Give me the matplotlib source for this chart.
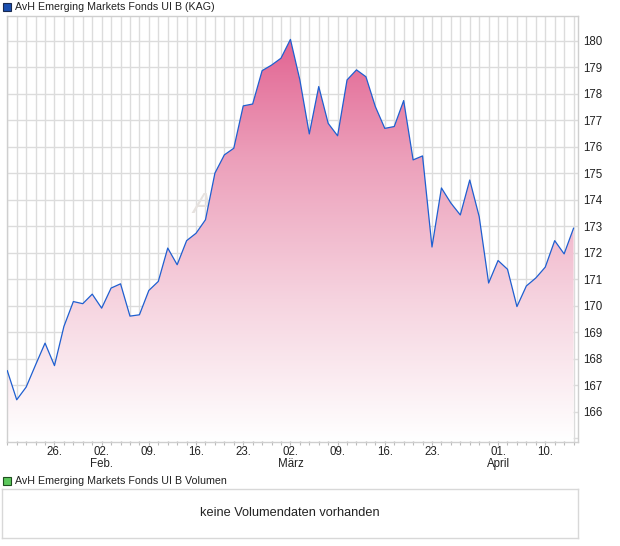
import numpy as np
import matplotlib
matplotlib.use( "Agg" )
import matplotlib.pyplot as plt
from matplotlib.colors import LinearSegmentedColormap

#################################################
#     Data
#################################################
title = "AvH Emerging Markets Fonds UI B (KAG)"
volume_title = "AvH Emerging Markets Fonds UI B Volumen"
volume_note = "keine Volumendaten vorhanden"

# one value per trading day, 19. Jan .. 15. April
prices = [
    167.55, 166.45, 166.93, 167.77, 168.59, 167.74, 169.22, 170.16, 170.08, 170.44,
    169.91, 170.67, 170.83, 169.61, 169.66, 170.58, 170.92, 172.18, 171.55, 172.46,
    172.74, 173.25, 175.01, 175.70, 175.95, 177.55, 177.62, 178.88, 179.09, 179.35,
    180.06, 178.53, 176.49, 178.28, 176.89, 176.42, 178.53, 178.91, 178.65, 177.52,
    176.70, 176.77, 177.75, 175.51, 175.66, 172.22, 174.45, 173.88, 173.43, 174.75,
    173.37, 170.86, 171.71, 171.38, 169.97, 170.75, 171.05, 171.46, 172.46, 171.96,
    172.93,
]
tick_days = [ 5, 10, 15, 20, 25, 30, 35, 40, 45, 52, 57 ]
tick_labels = [ "26.", "02.\nFeb.", "09.", "16.", "23.", "02.\nMärz", "09.", "16.", "23.", "01.\nApril", "10." ]
y_ticks = list( range( 166, 181 ) )

#################################################
#     Style
#################################################
plt.rcParams[ "font.family" ] = [ "Liberation Sans", "DejaVu Sans" ]
grid_color = "#dcdcdc"
line_color = "#1f5fd0"
text_color = "#222222"

fig = plt.figure( figsize = ( 6.2, 5.46 ), dpi = 100 )

#################################################
#     Price chart
#################################################
ax = fig.add_axes( [ 7 / 620, 1 - 441.5 / 546, 571 / 620, 425.5 / 546 ] )
x = np.arange( len( prices ) )
y = np.array( prices )
x_lim = ( -0.03, 60.47 )
y_lim = ( 164.875, 180.944 )
ax.set_xlim( *x_lim )
ax.set_ylim( *y_lim )

# grid: every trading day and every full unit
for d in range( 0, 61 ):
    ax.axvline( d, color = grid_color, lw = 1.0, zorder = 1 )
for v in range( 165, 181 ):
    ax.axhline( v, color = grid_color, lw = 1.0, zorder = 1 )

# faint watermark (mostly hidden by the area)
ax.text( 20.6, 173.8, "A", fontsize = 21, color = "#e6e2df", ha = "center", va = "center", fontstyle = "italic", zorder = 1.5 )

# gradient filled area
poly = ax.fill_between( x, y, y_lim[ 0 ], facecolor = "none", edgecolor = "none", zorder = 2 )
cmap = LinearSegmentedColormap.from_list( "pinkfade", [ "#ffffff", "#f6d3df", "#ec9fba", "#e0588a" ] )
grad = np.linspace( 0, 1, 256 ).reshape( -1, 1 )
im = ax.imshow( grad, cmap = cmap, origin = "lower", aspect = "auto", extent = [ x_lim[ 0 ], x_lim[ 1 ], y_lim[ 0 ], y_lim[ 1 ] ], zorder = 2 )
im.set_clip_path( poly.get_paths()[ 0 ], transform = ax.transData )
ax.plot( x, y, color = line_color, lw = 0.9, zorder = 3 )

# axes
for s in ax.spines.values():
    s.set_color( "#cfcfcf" )
    s.set_linewidth( 1.0 )
ax.yaxis.tick_right()
ax.set_yticks( y_ticks )
ax.set_yticklabels( [ str( v ) for v in y_ticks ] )
ax.tick_params( axis = "y", length = 0, pad = 4, labelsize = 8.3, labelcolor = text_color )
ax.set_xticks( tick_days )
ax.set_xticklabels( tick_labels, linespacing = 1.07 )
ax.set_xticks( range( 0, 61 ), minor = True )
ax.tick_params( axis = "x", which = "both", length = 2.5, width = 0.8, color = "#bbbbbb", pad = 0.5, labelsize = 8.3, labelcolor = text_color )

# legend marker + title
fig.patches.append( plt.Rectangle( ( 3 / 620, 1 - 11 / 546 ), 8 / 620, 8 / 546, transform = fig.transFigure, facecolor = "#1a4fb0", edgecolor = "#1a2a50", lw = 0.8 ) )
fig.text( 15 / 620, 1 - 6.5 / 546, title, fontsize = 7.7, color = text_color, va = "center", ha = "left" )

#################################################
#     Volume panel
#################################################
fig.patches.append( plt.Rectangle( ( 3 / 620, 1 - 485 / 546 ), 8 / 620, 8 / 546, transform = fig.transFigure, facecolor = "#5cc85c", edgecolor = "#1f4f1f", lw = 0.8 ) )
fig.text( 15 / 620, 1 - 480.5 / 546, volume_title, fontsize = 7.7, color = text_color, va = "center", ha = "left" )
vax = fig.add_axes( [ 2 / 620, 1 - 538 / 546, 576 / 620, 49 / 546 ] )
vax.set_xticks( [] )
vax.set_yticks( [] )
for s in vax.spines.values():
    s.set_color( "#d8d8d8" )
    s.set_linewidth( 1.0 )
vax.text( 0.5, 0.5, volume_note, transform = vax.transAxes, ha = "center", va = "center", fontsize = 9.2, color = text_color )

fig.savefig( "out.png", dpi = 100 )
